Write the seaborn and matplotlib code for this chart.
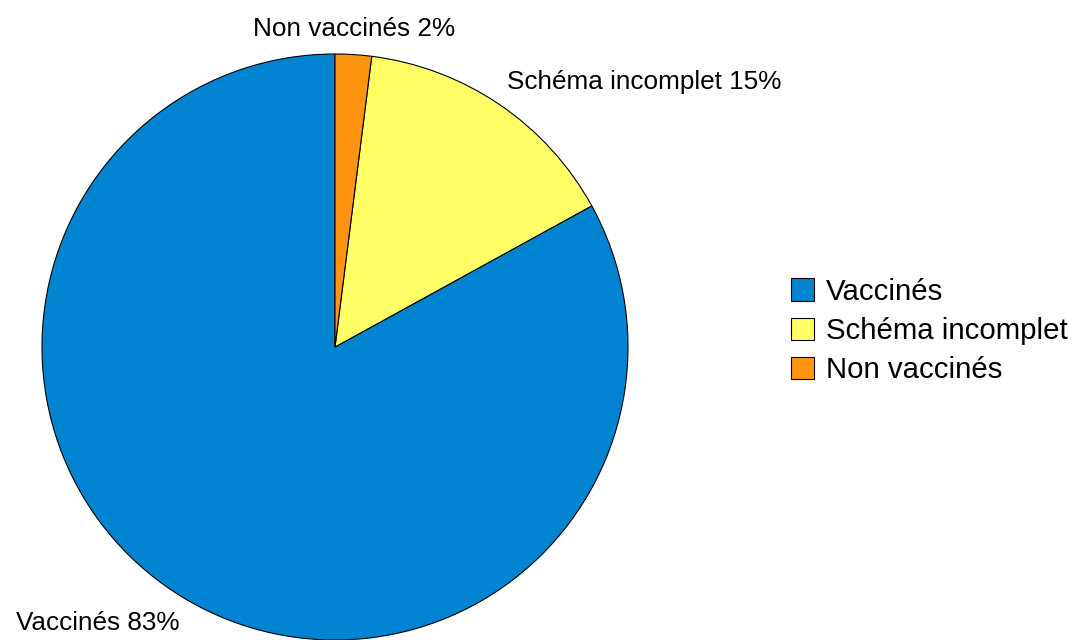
import numpy as np
import matplotlib
matplotlib.use("Agg")
import matplotlib.pyplot as plt
import seaborn as sns

# Vaccination status shares (percent)
categories = ["Vaccinés", "Schéma incomplet", "Non vaccinés"]
shares = [83, 15, 2]
colors = ["#0084d1", "#ffff66", "#ff950e"]

sns.set_theme(style="white")
plt.rcParams["font.family"] = ["Liberation Sans", "DejaVu Sans"]
plt.rcParams["text.color"] = "black"

fig = plt.figure(figsize=(10.74, 6.4), dpi=100)
ax = fig.add_axes([0, 0, 1, 1])

labels = [f"{c} {v}%" for c, v in zip(categories, shares)]
wedges, texts = ax.pie(
    shares,
    colors=colors,
    startangle=90,
    counterclock=True,
    labels=labels,
    labeldistance=1.045,
    wedgeprops=dict(edgecolor="black", linewidth=0.8),
    textprops=dict(fontsize=18.8, color="black"),
)

# anchor each label by the corner facing the pie
for w, t in zip(wedges, texts):
    ang = np.deg2rad((w.theta1 + w.theta2) / 2)
    c, s = np.cos(ang), np.sin(ang)
    t.set_ha("left" if c > 0.15 else ("right" if c < -0.15 else "center"))
    t.set_va("bottom" if s > 0 else "top")

# pixel-consistent limits: centre at (335, 347) px, radius 293 px
ax.set_xlim(-335 / 293, (1074 - 335) / 293)
ax.set_ylim(-(640 - 347) / 293, 347 / 293)
ax.set_aspect("auto")
ax.axis("off")

leg = ax.legend(
    wedges, categories,
    loc="center left", bbox_to_anchor=(791 / 1074, 1 - 331 / 640),
    bbox_transform=fig.transFigure,
    frameon=False, fontsize=21.2, borderpad=0,
    handlelength=0.78, handleheight=0.78, handletextpad=0.42,
    labelspacing=0.38, borderaxespad=0,
)
for txt in leg.get_texts():
    txt.set_color("black")

fig.savefig("out.png", dpi=100)
